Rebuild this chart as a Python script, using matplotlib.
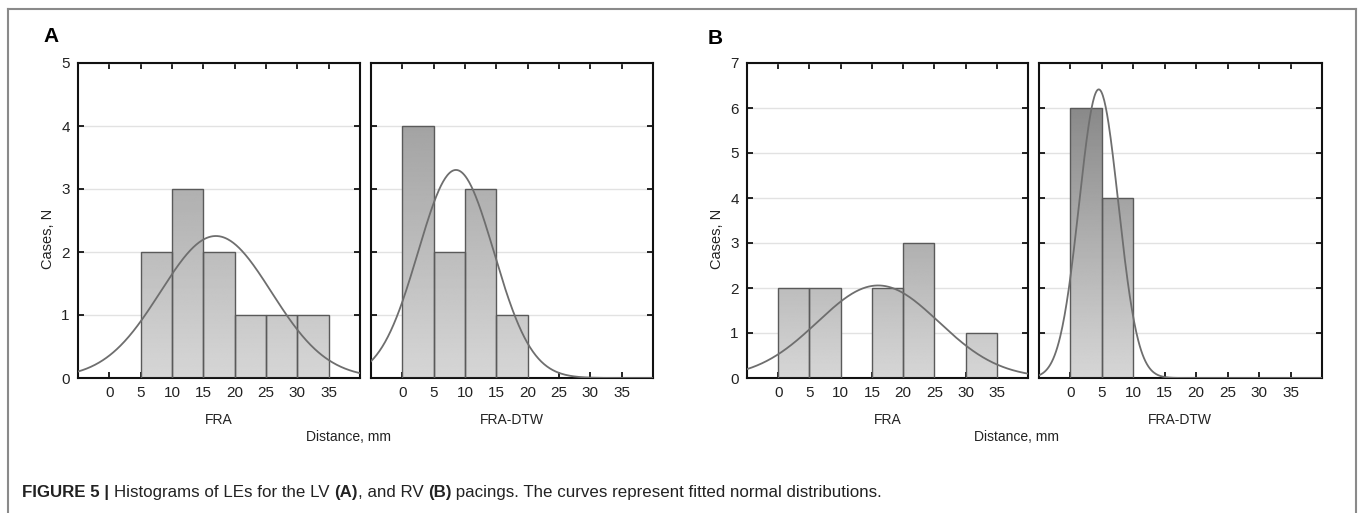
import numpy as np
import matplotlib.pyplot as plt
from matplotlib.lines import Line2D

plt.rcParams["font.family"] = ["Liberation Sans", "DejaVu Sans"]

# histogram bins (left edges, mm) and case counts
bin_edges = [0, 5, 10, 15, 20, 25, 30]
bin_width = 5

lv_fra = [0, 2, 3, 2, 1, 1, 1]
lv_fra_dtw = [4, 2, 3, 1, 0, 0, 0]
rv_fra = [2, 2, 0, 2, 3, 0, 1]
rv_fra_dtw = [6, 4, 0, 0, 0, 0, 0]

n_cases = 10
# fitted normal parameters (mean, sd in mm)
lv_fit = [(17.0, 8.85), (8.56, 6.04)]
rv_fit = [(16.0, 9.7), (4.5, 3.11)]

x_ticks = [0, 5, 10, 15, 20, 25, 30, 35]
sub_labels = ["FRA", "FRA-DTW"]

fig = plt.figure(figsize=(13.6, 5.13), dpi=100)
W, H = 1360, 513


def box(x0, x1, ytop, ybot):
    return [x0 / W, 1 - ybot / H, (x1 - x0) / W, (ybot - ytop) / H]


def draw_hist(ax, counts, fit, ymax, show_y):
    bars = ax.bar(bin_edges, counts, width=bin_width, align="edge",
                  facecolor="none", edgecolor="#5a5a5a", linewidth=1.0, zorder=3)
    yy = np.linspace(0, 7, 256)
    grad = (0.84 - 0.05 * yy)[:, None]
    for b in bars:
        if b.get_height() == 0:
            b.set_visible(False)
            continue
        x0 = b.get_x()
        im = ax.imshow(grad, cmap="gray", vmin=0, vmax=1, origin="lower",
                       extent=[x0, x0 + bin_width, 0, 7], aspect="auto",
                       interpolation="bilinear", zorder=2)
        im.set_clip_path(b)
    xs = np.linspace(-5, 40, 400)
    mu, sd = fit
    ys = n_cases * bin_width / (sd * np.sqrt(2 * np.pi)) * np.exp(-0.5 * ((xs - mu) / sd) ** 2)
    ax.plot(xs, ys, color="#6e6e6e", lw=1.3, zorder=4)
    ax.set_xlim(-5, 40)
    ax.set_ylim(0, ymax)
    ax.set_xticks(x_ticks)
    ax.set_yticks(range(ymax + 1))
    ax.yaxis.grid(True, color="#e2e2e2", lw=1.0, zorder=0)
    ax.set_axisbelow(True)
    ax.tick_params(direction="in", top=True, right=True, length=4, width=1.2,
                   labelsize=11, labelcolor="#222222", pad=6)
    if not show_y:
        ax.tick_params(labelleft=False)
    for s in ax.spines.values():
        s.set_linewidth(1.5)
        s.set_color("#111111")


panels = [
    (box(78, 360, 63, 378), lv_fra, lv_fit[0], 5, True),
    (box(371, 653, 63, 378), lv_fra_dtw, lv_fit[1], 5, False),
    (box(747, 1028, 63, 378), rv_fra, rv_fit[0], 7, True),
    (box(1039, 1322, 63, 378), rv_fra_dtw, rv_fit[1], 7, False),
]
for rect, counts, fit, ymax, show_y in panels:
    ax = fig.add_axes(rect)
    draw_hist(ax, counts, fit, ymax, show_y)

# panel letters, axis labels
fig.text(43 / W, 1 - 36 / H, "A", fontsize=15, fontweight="bold", va="center")
fig.text(708 / W, 1 - 39 / H, "B", fontsize=15, fontweight="bold", va="center")
for xc in (48, 717):
    fig.text(xc / W, 1 - 239 / H, "Cases, N", rotation=90, fontsize=10.5,
             ha="center", va="center", color="#222222")
for xc, lab in [(219, sub_labels[0]), (512, sub_labels[1]),
                (888, sub_labels[0]), (1180, sub_labels[1])]:
    fig.text(xc / W, 1 - 420 / H, lab, fontsize=10, ha="center", va="center", color="#222222")
for xc in (349, 1017):
    fig.text(xc / W, 1 - 437 / H, "Distance, mm", fontsize=10, ha="center", va="center",
             color="#222222")

# outer frame (bottom edge falls outside the image)
fc = "#8a8a8a"
fig.add_artist(Line2D([8 / W, 8 / W], [0, 1 - 9 / H], color=fc, lw=1.5))
fig.add_artist(Line2D([8 / W, 1356 / W], [1 - 9 / H, 1 - 9 / H], color=fc, lw=1.5))
fig.add_artist(Line2D([1356 / W, 1356 / W], [0, 1 - 9 / H], color=fc, lw=1.5))

# caption with bold pieces
caption = [("FIGURE 5 | ", "bold"), ("Histograms of LEs for the LV ", "normal"),
           ("(A)", "bold"), (", and RV ", "normal"), ("(B)", "bold"),
           (" pacings. The curves represent fitted normal distributions.", "normal")]
renderer = fig.canvas.get_renderer()
x = 22 / W
for txt, wt in caption:
    t = fig.text(x, 1 - 497 / H, txt, fontsize=12.2, fontweight=wt, va="baseline",
                 color="#222222")
    x += t.get_window_extent(renderer).width / W

fig.savefig("out.png", dpi=100)
